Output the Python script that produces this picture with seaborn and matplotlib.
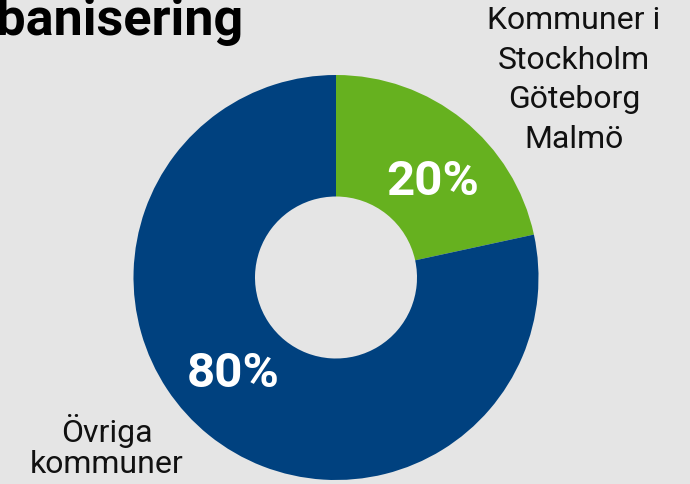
import matplotlib
matplotlib.use("Agg")
import matplotlib.pyplot as plt
import seaborn as sns

# Data
categories = ["Kommuner i\nStockholm\nGöteborg\nMalmö", "Övriga\nkommuner"]
values = [21.6, 78.4]
pct_labels = ["20%", "80%"]
title = "Urbanisering"

BG = "#e5e5e5"
GREEN = "#66b11f"
BLUE = "#00417f"

sns.set_theme(style="white")
plt.rcParams["font.family"] = ["Roboto", "DejaVu Sans"]
palette = sns.color_palette([GREEN, BLUE])

W, H = 690, 484
fig = plt.figure(figsize=(W / 100, H / 100), dpi=100, facecolor=BG)

cx, cy, r = 336, 277.5, 202.5
ax = fig.add_axes([(cx - r) / W, 1 - (cy + r) / H, 2 * r / W, 2 * r / H])
ax.set_facecolor(BG)
ax.pie(values, colors=palette, startangle=90, counterclock=False,
       radius=1.0, wedgeprops=dict(width=0.6, linewidth=0, edgecolor="none"))
ax.set_xlim(-1, 1)
ax.set_ylim(-1, 1)
ax.set_aspect("equal")
ax.axis("off")

def px(x, y):
    return x / W, 1 - y / H

fig.text(*px(243, 35), title, ha="right", va="baseline", fontsize=37.5,
         fontweight="bold", color="black")

fig.text(*px(574, 6), categories[0], ha="center", va="top", fontsize=23,
         color="#111111", linespacing=1.46)
fig.text(*px(107, 414), categories[1], ha="center", va="top", fontsize=23,
         color="#111111", linespacing=1.1)

fig.text(*px(432.5, 195), pct_labels[0], ha="center", va="baseline",
         fontsize=35.5, fontweight="bold", color="white")
fig.text(*px(233, 387), pct_labels[1], ha="center", va="baseline",
         fontsize=35.5, fontweight="bold", color="white")

fig.savefig("out.png", dpi=100, facecolor=BG)
